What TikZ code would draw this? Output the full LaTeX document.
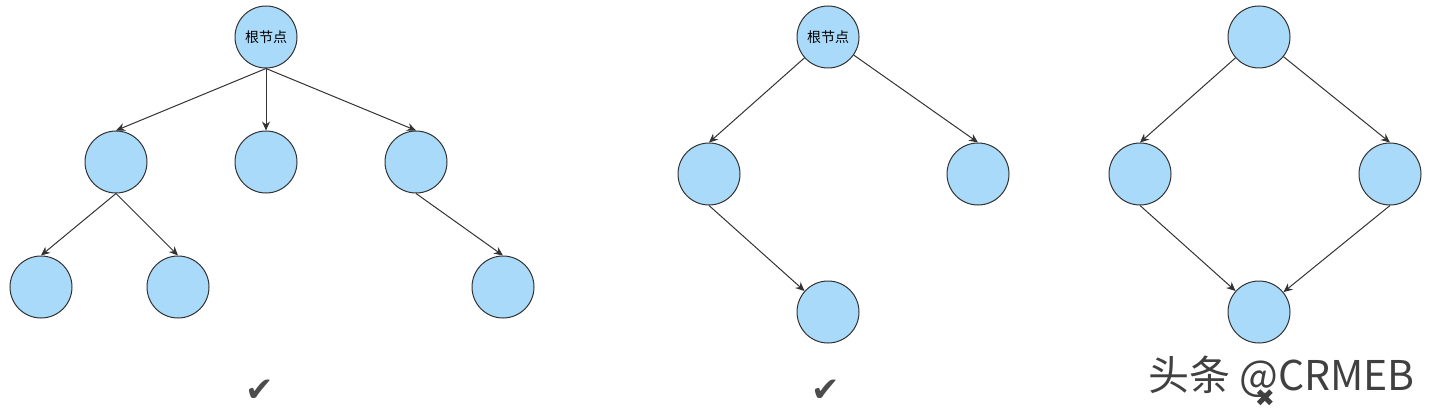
\documentclass[tikz,border=0pt]{standalone}
\usepackage{fontspec}
\usetikzlibrary{arrows.meta}
\newfontfamily\cjk{Noto Sans CJK SC}
\newfontfamily\symb{DejaVu Sans}
\definecolor{nodeblue}{HTML}{A9DAF9}
\definecolor{edgegray}{HTML}{333333}
\begin{document}
\begin{tikzpicture}[x=1pt,y=-1pt,
  tn/.style={circle, draw=edgegray, fill=nodeblue, line width=1pt, minimum size=62pt, inner sep=0pt, font=\cjk\fontsize{14}{14}\selectfont},
  ed/.style={-{Stealth[length=9pt,width=8pt]}, draw=edgegray, line width=1pt}]
\useasboundingbox (0,0) rectangle (1431,409);
% left tree
\node[tn] (r1) at (266,37)  {根节点};
\node[tn] (a1) at (116,162) {};
\node[tn] (b1) at (266,162) {};
\node[tn] (c1) at (416,162) {};
\node[tn] (d1) at (41,287)  {};
\node[tn] (e1) at (178,287) {};
\node[tn] (f1) at (503,287) {};
\draw[ed] (r1.south) -- (a1.north);
\draw[ed] (r1.south) -- (b1.north);
\draw[ed] (r1.south) -- (c1.north);
\draw[ed] (a1.south) -- (d1.north);
\draw[ed] (a1.south) -- (e1.north);
\draw[ed] (c1.south) -- (f1.north);
% middle tree
\node[tn] (r2) at (828,37)  {根节点};
\node[tn] (a2) at (709,174) {};
\node[tn] (b2) at (978,174) {};
\node[tn] (c2) at (828,312) {};
\draw[ed] (r2) -- (a2.north);
\draw[ed] (r2) -- (b2.north);
\draw[ed] (a2.south) -- (c2);
% right graph
\node[tn] (r3) at (1259,37)  {};
\node[tn] (a3) at (1140,174) {};
\node[tn] (b3) at (1390,174) {};
\node[tn] (c3) at (1259,312) {};
\draw[ed] (r3) -- (a3.north);
\draw[ed] (r3) -- (b3.north);
\draw[ed] (a3.south) -- (c3);
\draw[ed] (b3.south) -- (c3);
% marks
\node[text=black!70, font=\symb\fontsize{34}{34}\selectfont] (ok1) at (260,391) {✔};
\node[text=black!70, font=\symb\fontsize{34}{34}\selectfont] (ok2) at (826,391) {✔};
\node[text=black!75, font=\symb\fontsize{24}{24}\selectfont] (no3) at (1265,398) {✖};
\node[text=black!75, font=\cjk\fontsize{41}{41}\selectfont, anchor=west, inner sep=0pt] (wm) at (1148,377) {头条 @CRMEB};
\end{tikzpicture}
\end{document}
